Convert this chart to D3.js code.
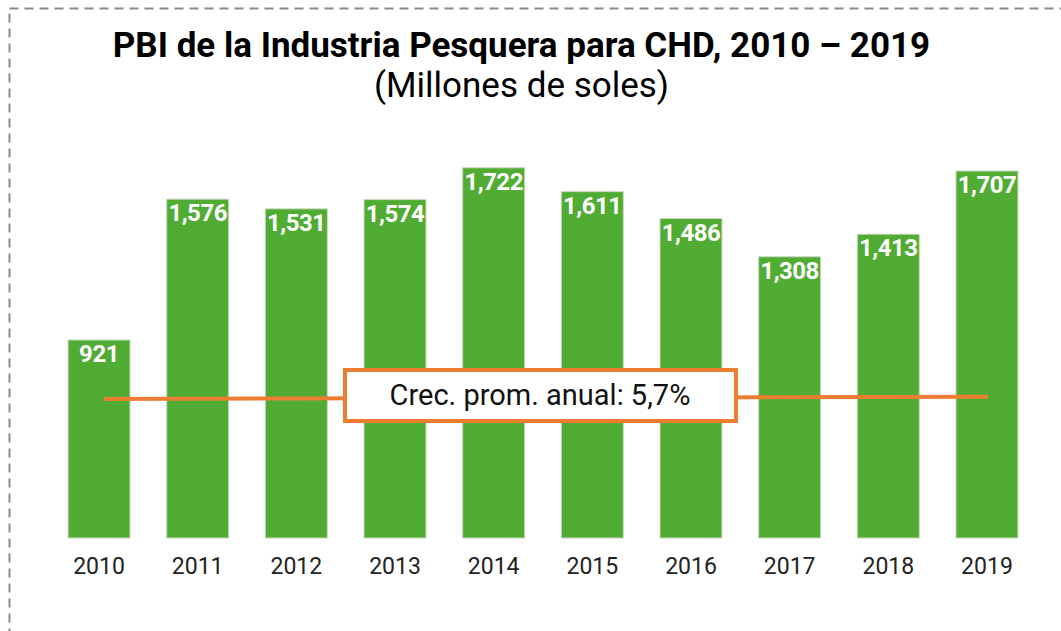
<!DOCTYPE html>
<html>
<head>
<meta charset="utf-8">
<script src="https://cdn.jsdelivr.net/npm/d3@7"></script>
<style>
  html, body { margin: 0; padding: 0; background: #fff; }
  svg { display: block; }
  text { font-family: Roboto, "Noto Sans", sans-serif; }
</style>
</head>
<body>
<svg id="chart" width="1061" height="631"></svg>
<script>
const years = ["2010","2011","2012","2013","2014","2015","2016","2017","2018","2019"];
const values = [921, 1576, 1531, 1574, 1722, 1611, 1486, 1308, 1413, 1707];
const trendValues = [647, 657];
const titleText = "PBI de la Industria Pesquera para CHD, 2010 \u2013 2019";
const subtitleText = "(Millones de soles)";
const annotationText = "Crec. prom. anual: 5,7%";

const svg = d3.select("#chart");
const W = 1061, H = 631;

// dashed frame
svg.append("rect")
  .attr("x", 9.5).attr("y", 8.5)
  .attr("width", W + 20).attr("height", H + 20)
  .attr("fill", "none")
  .attr("stroke", "#8a8a8a")
  .attr("stroke-width", 2)
  .attr("stroke-dasharray", "9,6");

// titles
svg.append("text")
  .attr("x", 521.5).attr("y", 57)
  .attr("text-anchor", "middle")
  .attr("font-size", 35).attr("font-weight", "bold")
  .attr("fill", "#000")
  .text(titleText);
svg.append("text")
  .attr("x", 521.5).attr("y", 97)
  .attr("text-anchor", "middle")
  .attr("font-size", 35)
  .attr("fill", "#000")
  .text(subtitleText);

const x = d3.scaleBand()
  .domain(years)
  .range([49.7, 1036.3])
  .paddingInner(0.372)
  .paddingOuter(0.186);

const y = d3.scaleLinear().domain([0, 2000]).range([538, 108]);

const g = svg.append("g");
g.selectAll("rect.bar")
  .data(years)
  .join("rect")
  .attr("class", "bar")
  .attr("x", d => x(d))
  .attr("y", (d, i) => y(values[i]))
  .attr("width", x.bandwidth())
  .attr("height", (d, i) => y(0) - y(values[i]))
  .attr("fill", "#51ac33")
  .attr("stroke", "#c8d8c0")
  .attr("stroke-width", 1);

const fmt = d3.format(",");
g.selectAll("text.val")
  .data(years)
  .join("text")
  .attr("class", "val")
  .attr("x", d => x(d) + x.bandwidth() / 2)
  .attr("y", (d, i) => y(values[i]) + 22)
  .attr("text-anchor", "middle")
  .attr("font-size", 24).attr("font-weight", "bold")
  .attr("letter-spacing", -0.5)
  .attr("fill", "#fff")
  .text((d, i) => fmt(values[i]));

// x axis (labels only)
const xAxis = d3.axisBottom(x).tickSize(0).tickPadding(0);
const ax = svg.append("g").attr("transform", `translate(0, ${y(0)})`).call(xAxis);
ax.select(".domain").remove();
ax.selectAll("text")
  .attr("font-family", "Roboto, sans-serif")
  .attr("font-size", 23)
  .attr("fill", "#222")
  .attr("dy", 0)
  .attr("y", 36);

// trend line
const x0 = x(years[0]) + x.bandwidth() / 2 + 5;
const x1 = x(years[years.length - 1]) + x.bandwidth() / 2 + 1;
svg.append("line")
  .attr("x1", x0).attr("y1", y(trendValues[0]))
  .attr("x2", x1).attr("y2", y(trendValues[1]))
  .attr("stroke", "#ed7d31")
  .attr("stroke-width", 4);

// annotation box
svg.append("rect")
  .attr("x", 345).attr("y", 370)
  .attr("width", 391).attr("height", 51)
  .attr("fill", "#fff")
  .attr("stroke", "#ed7d31")
  .attr("stroke-width", 4);
svg.append("text")
  .attr("x", 540).attr("y", 405)
  .attr("text-anchor", "middle")
  .attr("font-size", 29)
  .attr("fill", "#111")
  .text(annotationText);
</script>
</body>
</html>
